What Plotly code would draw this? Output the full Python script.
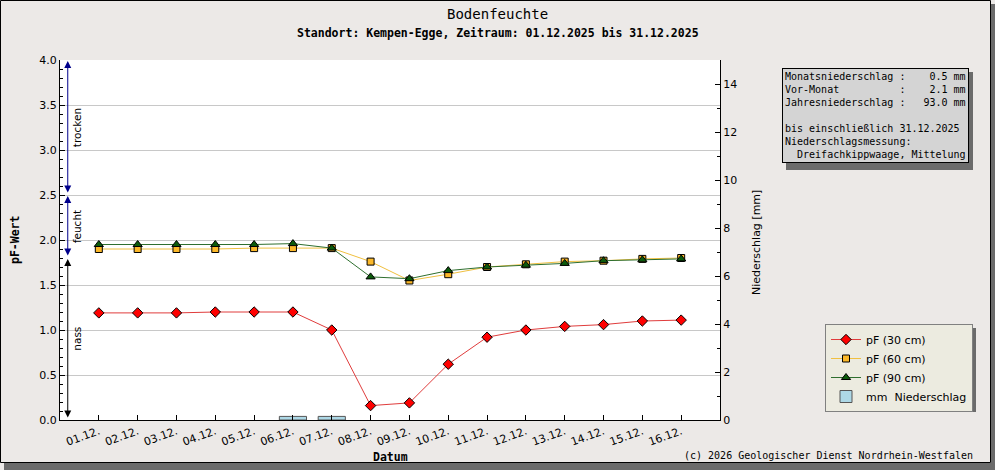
import plotly.graph_objects as go

# Tage im Dezember (Tag 1 = 01.12.)
days = list(range(1, 17))
day_labels = ["%02d.12." % d for d in days]

pf_30 = [1.19, 1.19, 1.19, 1.20, 1.20, 1.20, 1.00, 0.16, 0.19, 0.62, 0.92, 1.00, 1.04, 1.06, 1.10, 1.11]
pf_60 = [1.90, 1.90, 1.90, 1.90, 1.91, 1.91, 1.91, 1.76, 1.55, 1.62, 1.70, 1.73, 1.76, 1.77, 1.79, 1.80]
pf_90 = [1.95, 1.95, 1.95, 1.95, 1.95, 1.96, 1.91, 1.59, 1.57, 1.66, 1.70, 1.72, 1.74, 1.77, 1.78, 1.79]
niederschlag = [0, 0, 0, 0, 0, 0.15, 0.15, 0, 0, 0, 0, 0, 0, 0, 0, 0]

# Bereiche der Bodenfeuchte (pF)
zone_names = ["trocken", "feucht", "nass"]
zone_low = [2.5, 1.8, 0.0]
zone_high = [4.0, 2.5, 1.8]
zone_colors = ["#00008b", "#00008b", "#000000"]

info_lines = [
    "Monatsniederschlag :    0.5 mm",
    "Vor-Monat          :    2.1 mm",
    "Jahresniederschlag :   93.0 mm",
    "",
    "bis einschließlich 31.12.2025",
    "Niederschlagsmessung:",
    "  Dreifachkippwaage, Mittelung",
]

W, H = 995, 470
L, R, T, B = 60, 275, 60, 50
pw, ph = W - L - R, H - T - B


def px(x):
    return (x - L) / pw


def py(y):
    return (H - B - y) / ph


sans = "DejaVu Sans"
mono = "DejaVu Sans Mono"
bg = "#ece9e7"

fig = go.Figure()
fig.add_trace(go.Scatter(x=days, y=pf_30, mode="lines+markers", name="pF (30 cm)",
                         line=dict(color="#e03c3c", width=1),
                         marker=dict(symbol="diamond", size=8, color="#ff0000",
                                     line=dict(color="#000000", width=1))))
fig.add_trace(go.Scatter(x=days, y=pf_60, mode="lines+markers", name="pF (60 cm)",
                         line=dict(color="#f0c040", width=1),
                         marker=dict(symbol="square", size=7, color="#fbb829",
                                     line=dict(color="#000000", width=1))))
fig.add_trace(go.Scatter(x=days, y=pf_90, mode="lines+markers", name="pF (90 cm)",
                         line=dict(color="#2f6f2f", width=1),
                         marker=dict(symbol="triangle-up", size=8, color="#0b5a0b",
                                     line=dict(color="#000000", width=1))))
fig.add_trace(go.Bar(x=days, y=[v if v > 0 else None for v in niederschlag],
                     name="mm\u00a0\u00a0Niederschlag", yaxis="y2", width=0.7,
                     marker=dict(color="#add8e6", line=dict(color="#555555", width=1))))

annotations = []
for name, lo, hi, col in zip(zone_names, zone_low, zone_high, zone_colors):
    annotations.append(dict(x=0.2, y=hi, ax=0.2, ay=lo, xref="x", yref="y", axref="x", ayref="y",
                            text="", showarrow=True, arrowside="end+start", arrowhead=2,
                            arrowsize=1.4, arrowwidth=1, arrowcolor=col, standoff=1, startstandoff=1))
    annotations.append(dict(x=0.43, y=(lo + hi) / 2, xref="x", yref="y", text=name, showarrow=False,
                            xanchor="center", yanchor="middle", textangle=-90,
                            font=dict(family=sans, size=10.5, color="#000000")))


def label(x, y, text, font, angle=0, xanchor="center"):
    return dict(x=px(x), y=py(y), xref="paper", yref="paper", text=text, showarrow=False,
                xanchor=xanchor, yanchor="middle", textangle=angle, font=font)


annotations += [
    label(497, 14, "Bodenfeuchte", dict(family=mono, size=14, color="#000000")),
    label(498, 33, "<b>Standort: Kempen-Egge, Zeitraum: 01.12.2025 bis 31.12.2025</b>",
          dict(family=mono, size=11.5, color="#000000")),
    label(15, 240, "<b>pF-Wert</b>", dict(family=mono, size=11.5, color="#000000"), angle=-90),
    label(390, 457, "<b>Datum</b>", dict(family=mono, size=11.5, color="#000000")),
    label(756, 242, "Niederschlag [mm]", dict(family=sans, size=11, color="#000000"), angle=-90),
    label(975, 455, "(c) 2026 Geologischer Dienst Nordrhein-Westfalen",
          dict(family=mono, size=10, color="#000000"), xanchor="right"),
    dict(x=px(782), y=py(68), xref="paper", yref="paper", xanchor="left", yanchor="top", align="left",
         text="<br>".join(l.replace(" ", "\u00a0") if l else "\u00a0" for l in info_lines),
         showarrow=False, bgcolor="#d4d4d4", bordercolor="#000000", borderwidth=1, borderpad=2,
         font=dict(family=mono, size=10, color="#000000")),
]

shadow = "#6b6b6b"
shapes = [
    # Schatten Infobox und Legende
    dict(type="rect", xref="paper", yref="paper", x0=px(786), x1=px(973), y0=py(170), y1=py(72),
         fillcolor=shadow, line=dict(width=0)),
    dict(type="rect", xref="paper", yref="paper", x0=px(829), x1=px(976), y0=py(412), y1=py(328),
         fillcolor=shadow, line=dict(width=0)),
    # Rahmen mit Schatten
    dict(type="rect", xref="paper", yref="paper", x0=px(991), x1=px(996), y0=py(471), y1=py(4),
         fillcolor=shadow, line=dict(width=0)),
    dict(type="rect", xref="paper", yref="paper", x0=px(4), x1=px(996), y0=py(471), y1=py(463),
         fillcolor=shadow, line=dict(width=0)),
    dict(type="rect", xref="paper", yref="paper", x0=px(0.5), x1=px(990.5), y0=py(462.5), y1=py(0.5),
         line=dict(color="#000000", width=1)),
]

fig.update_layout(
    width=W, height=H, margin=dict(l=L, r=R, t=T, b=B),
    paper_bgcolor=bg, plot_bgcolor="#ffffff",
    font=dict(family=sans, size=11, color="#000000"),
    showlegend=True, barmode="overlay",
    legend=dict(x=px(825), y=py(324), xanchor="left", yanchor="top", bgcolor="#ecebe0",
                bordercolor="#808080", borderwidth=1, font=dict(family=sans, size=11),
                itemwidth=30, tracegroupgap=0, traceorder="normal"),
    xaxis=dict(range=[0, 17], tickvals=days, ticktext=day_labels, tickangle=-20,
               ticks="inside", ticklen=5, tickcolor="#000000", showgrid=False, zeroline=False,
               showline=True, linecolor="#000000", linewidth=1,
               tickfont=dict(family=sans, size=11)),
    yaxis=dict(range=[0, 4], dtick=0.5, tick0=0, tickformat=".1f", ticks="inside", ticklen=5,
               tickcolor="#000000", showgrid=True, gridcolor="#c8c8c8", gridwidth=1, zeroline=False,
               showline=True, linecolor="#000000", linewidth=1,
               minor=dict(dtick=0.1, ticks="inside", ticklen=3, tickcolor="#000000", showgrid=False),
               tickfont=dict(family=sans, size=11)),
    yaxis2=dict(range=[0, 15], dtick=2, tick0=0, overlaying="y", side="right", ticks="inside",
                ticklen=5, tickcolor="#000000", showgrid=False, zeroline=False, showline=True,
                linecolor="#000000", linewidth=1,
                minor=dict(dtick=1, ticks="inside", ticklen=3, tickcolor="#000000", showgrid=False),
                tickfont=dict(family=sans, size=11)),
    annotations=annotations, shapes=shapes,
)

fig.write_html("out.html", config={"displayModeBar": False},
               post_script="document.body.style.margin='0';")
